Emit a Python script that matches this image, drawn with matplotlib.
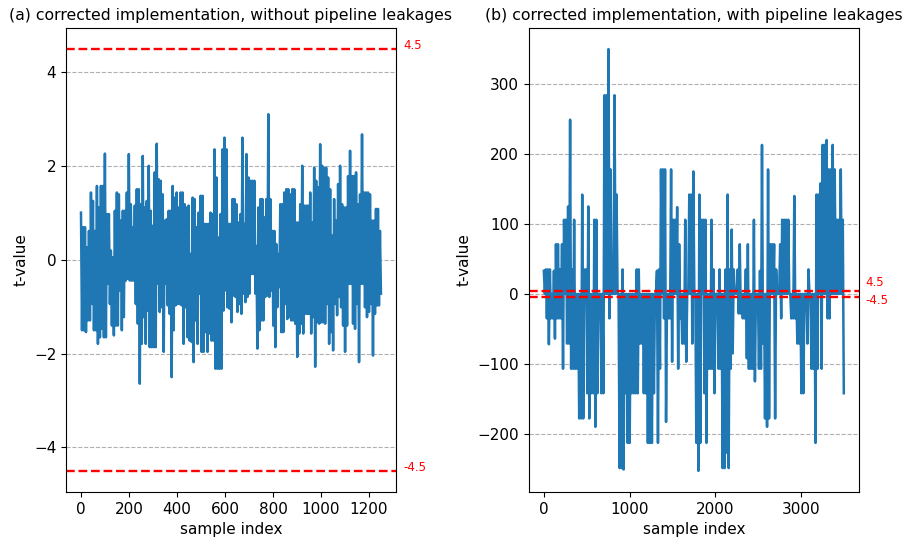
import numpy as np
import matplotlib
matplotlib.use("Agg")
import matplotlib.pyplot as plt
from matplotlib.transforms import offset_copy

# ---------------- data ----------------
n_samples_a = 1250
n_samples_b = 3500
threshold = 4.5

# panel (a): t-values (read as successive high/low excursions)
t_a = [
    1.01, -1.50, 0.70, -1.50, 0.70, -1.54, 0.27, -1.29, 0.62, -1.29, 1.44, -0.94, 1.26, -1.50, 0.62, -1.50,
    1.58, -1.79, 1.12, -1.65, 1.58, -1.47, 1.58, -1.65, 2.27, -1.65, 0.98, -0.51, 0.98, -0.94, 0.20, -1.40,
    0.06, -1.61, 1.05, -1.40, 1.44, -1.40, 1.40, -0.65, 0.84, -1.50, 1.05, -1.22, 1.05, -0.44, 1.44, -0.40,
    2.26, -0.44, 1.19, -0.44, 0.70, -0.44, 1.16, -0.94, 1.51, -1.36, 1.51, -2.64, 1.19, -1.79, 2.22, -1.22,
    1.12, -1.79, 1.26, -1.08, 2.01, -1.86, 1.05, -1.86, 0.73, -1.86, 1.87, -1.86, 2.48, -0.51, 1.72, -1.11,
    1.69, -1.01, 1.40, -1.96, 0.84, -0.51, 0.87, -0.97, 1.05, -1.15, 1.05, -2.50, 1.58, -1.50, 1.33, -0.97,
    1.44, -0.94, 1.12, -0.94,
    1.44, -0.97, 1.44, -1.79, 1.19, -1.01, 1.12, -1.65, 1.16, -1.72, 0.13, -1.75, 1.33, -2.18, 1.30, -1.29,
    0.70, -1.79, 1.01, -0.72, 1.37, -1.96, 1.37, -1.96, 0.77, -1.54, 0.77, -1.96, 0.77, -1.57, 1.01, -1.72,
    0.98, -1.72, 2.36, -2.32, 1.76, -2.32, 0.48, -2.32, 0.98, -2.32, 2.36, -1.08, 2.61, -0.65, 2.36, -1.01,
    0.77, -1.04, 0.77, -1.33, 1.30, -0.76, 1.30, -0.79, 1.19, -1.11, 0.80, -0.94, 0.98, -1.15, 2.61, -0.72,
    0.77, -0.90, 2.26, -0.79, 1.76, -0.72, 1.69, -0.30, 1.69, -0.30, 1.69, -0.72, 0.30, -1.89, 1.12, -1.50,
    1.30, -1.29, 1.30, -1.29, 0.91, -0.79, 1.30, -0.76, 3.11, -0.79, 1.30, -0.65, 0.62, -1.40, 0.62, -1.86,
    0.34, -1.01, 0.13, -0.58, 1.19, -1.54,
    1.19, -1.54, 1.44, -0.94, 1.51, -1.26, 1.51, -1.22, 1.40, -1.29, 1.51, -1.29, 1.51, -1.36, 0.80, -2.07,
    0.80, -1.57, 1.19, -1.36, 2.01, -1.57, 1.16, -1.15, 1.16, -1.15, 1.16, -1.15, 1.44, -1.57, 0.80, -1.22,
    1.97, -2.28, 1.69, -1.33, 1.55, -1.36, 2.47, -1.33, 2.01, -1.33, 1.97, -1.36, 1.97, -0.94, 1.76, -1.79,
    1.51, -1.54, 0.52, -1.93, 1.30, -0.94, 0.84, -1.18, 1.62, -0.79, 2.01, -1.01, 1.19, -1.40, 1.12, -1.96,
    1.12, -1.40, 1.79, -0.51, 2.33, -0.51, 1.79, -1.36, 1.79, -1.47, 1.87, -0.94, 1.19, -2.18, 1.40, -0.51,
    2.68, -0.51, 1.44, -1.01, 1.44, -1.22, 1.44, -1.11, 1.40, -0.94, 0.84, -2.04, 0.84, -1.15, 1.09, -0.97,
    1.09, -0.97, 0.62, -0.72,
]

# panel (b): t-values (read as successive high/low excursions)
t_b = [
    33, 0, 35, -35, 35, -72, 35, -35, 0, -35, 33, -64, 71, -35, 71, -35, 35, -35, 71, -107,
    106, 0, 106, -71, 125, -71, 249, -107, 35, -107, 106, -107, 0, -107, 0, -178, 0, -178, 142, -178,
    35, 0, 35, -142, 125, -178, 0, -142, 0, -142, 106, -190, 106, -142, 0, 0, 0, -142, 0, -142,
    284, 0, 284, 0, 350, -35, 178, 0, 0, 0, 284, 0, 142, 0, 0, -249, 0, -249, 35, -251,
    0, -142, 0, -213, 0, -213, 0, -142, 0, -142, 0, -142, 35, -142,
    35, -71, 0, -71, 0, -142, 0, -142, 0, -213, 0, -213, 0, -213, 0, -142, 0, 0, 33, -213,
    35, -107, 178, 0, 178, -35, 178, -183, 0, -35, 0, -35, 178, -97, 106, 0, 106, 0, 124, -107,
    71, -35, 0, -71, 0, -71, 106, -97, 0, 0, 142, 0, 142, -71, 175, 0, 0, -213, 0, -253,
    142, -213, 106, 0, 106, -142, 106, -213, 0, -107, 0, -107, 106, -107, 35, -142, 0, 0, 0, -107,
    35, -107, 0, -249, 0, -249, 35, -227, 142, -249, 35, -107, 92, -85, 35, 0, 0, 0, 35, -28,
    71, -28, 0, -35, 0, -35, 35, -92, 71, -107, 0, -107, 0, -107, 106, -125, 0, 0, 0, -107,
    33, -107, 213, -71, 0, -178, 0, -190, 178, -178, 71, 0, 71, 0, 71, -178, 35, 0, 0, 0,
    71, -35, 106, 0, 106, 0, 106, 0, 106, 0, 0, -35, 0, -35, 140, -35, 0, -71, 0, -71,
    0, -142, 0, -142, 0, 0, 0, -71, 35, 0, 0, -107, 0, -107, 0, -213, 142, -107, 142, 0,
    158, -107, 213, 0, 213, 0, 220, -35, 178, -35, 178, 0, 213, 0, 178, 0, 106, 0, 106, 0,
    178, 0, 106, -142,
]

titles = ["(a) corrected implementation, without pipeline leakages",
          "(b) corrected implementation, with pipeline leakages"]
xlabel = "sample index"
ylabel = "t-value"

# ---------------- figure ----------------
fig = plt.figure(figsize=(9.04, 5.44), dpi=100)
ax_a = fig.add_axes([0.073, 0.0956, 0.365, 0.853])
ax_b = fig.add_axes([0.585, 0.0956, 0.365, 0.853])

blue = "#1f77b4"
grid_kw = dict(color="#b0b0b0", linestyle="--", linewidth=0.8)

# label offsets (points) for the threshold annotations, per panel
label_offsets = {"a": (-2.2, -2.4), "b": (1.6, -7.0)}

for key, ax, series, n, title in [
    ("a", ax_a, t_a, n_samples_a, titles[0]),
    ("b", ax_b, t_b, n_samples_b, titles[1]),
]:
    x = np.linspace(0, n, len(series))
    ax.plot(x, series, color=blue, linewidth=1.8)
    ax.axhline(threshold, color="red", linestyle="--", linewidth=1.7)
    ax.axhline(-threshold, color="red", linestyle="--", linewidth=1.7)
    ax.yaxis.grid(True, **grid_kw)
    ax.set_axisbelow(True)
    ax.set_title(title, fontsize=11.3, pad=6)
    ax.set_xlabel(xlabel, fontsize=11)
    ax.set_ylabel(ylabel, fontsize=11)
    ax.tick_params(labelsize=11)
    up, dn = label_offsets[key]
    tr_up = offset_copy(ax.get_yaxis_transform(), fig=fig, x=5, y=up, units="points")
    tr_dn = offset_copy(ax.get_yaxis_transform(), fig=fig, x=5, y=dn, units="points")
    ax.text(1.0, threshold, "4.5", color="red", fontsize=8.5, transform=tr_up, va="bottom", ha="left")
    ax.text(1.0, -threshold, "-4.5", color="red", fontsize=8.5, transform=tr_dn, va="bottom", ha="left")

ax_a.set_yticks([-4, -2, 0, 2, 4])
ax_a.set_xticks([0, 200, 400, 600, 800, 1000, 1200])
ax_b.set_xticks([0, 1000, 2000, 3000])
ax_b.set_yticks([-200, -100, 0, 100, 200, 300])

fig.savefig("out.png", dpi=100)
